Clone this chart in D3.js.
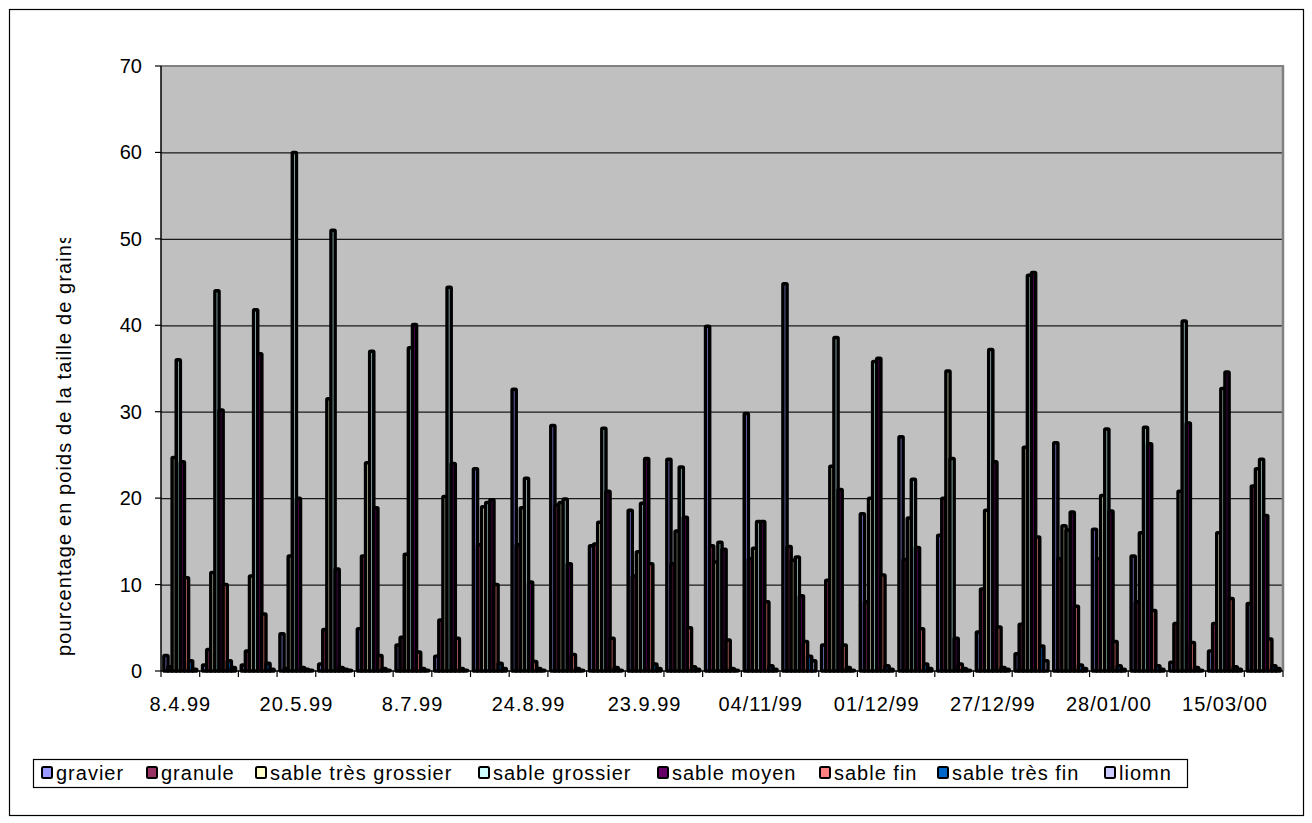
<!DOCTYPE html>
<html>
<head>
<meta charset="utf-8">
<script src="https://cdn.jsdelivr.net/npm/d3@7/dist/d3.min.js"></script>
<style>
  body { margin: 0; background: #fff; }
  text { font-family: Arial, "Liberation Sans", sans-serif; fill: #000; }
</style>
</head>
<body>
<div id="chartVis"></div>
<script>
// x labels: only every third sample date is written on the axis
var dateLabels = ["8.4.99", "20.5.99", "8.7.99", "24.8.99", "23.9.99", "04/11/99", "01/12/99", "27/12/99", "28/01/00", "15/03/00"];
var labelEvery = 3;

var seriesNames = ["gravier", "granule", "sable très grossier", "sable grossier", "sable moyen", "sable fin", "sable très fin", "liomn"];
var seriesColors = ["#9999FF", "#993366", "#FFFFCC", "#CCFFFF", "#660066", "#FF8080", "#0066CC", "#CCCCFF"];

// percentages per sample (29 samples)
var gravier     = [1.8, 0.7, 0.7, 4.3, 0.8, 4.9, 3.0, 1.7, 23.4, 32.6, 28.4, 14.5, 18.6, 24.5, 39.9, 29.8, 44.8, 3.0, 18.2, 27.1, 15.7, 4.5, 2.0, 26.4, 16.4, 13.3, 1.0, 2.3, 7.8];
var granule     = [0.5, 2.5, 2.3, 0.3, 4.8, 13.3, 3.9, 5.9, 14.6, 14.6, 19.2, 14.7, 11.0, 12.4, 14.5, 13.0, 14.4, 10.5, 8.0, 12.9, 20.0, 9.5, 5.4, 13.0, 13.0, 8.0, 5.5, 5.5, 21.4];
var tresGrossier = [24.7, 11.4, 11.0, 13.3, 31.5, 24.1, 13.5, 20.2, 19.0, 18.9, 19.5, 17.2, 13.8, 16.2, 12.6, 14.2, 12.8, 23.7, 20.0, 17.7, 34.7, 18.6, 25.9, 16.8, 20.3, 16.0, 20.8, 16.0, 23.4];
var grossier    = [36.0, 44.0, 41.8, 60.0, 51.0, 37.0, 37.4, 44.4, 19.5, 22.3, 19.9, 28.1, 19.4, 23.6, 14.9, 17.3, 13.2, 38.6, 35.8, 22.2, 24.6, 37.2, 45.8, 16.3, 28.0, 28.2, 40.5, 32.7, 24.5];
var moyen       = [24.2, 30.2, 36.7, 20.0, 11.8, 18.9, 40.1, 24.0, 19.8, 10.3, 12.4, 20.8, 24.6, 17.8, 14.1, 17.3, 8.7, 21.0, 36.2, 14.3, 3.8, 24.2, 46.1, 18.4, 18.5, 26.3, 28.7, 34.6, 18.0];
var fin         = [10.8, 10.0, 6.6, 0.4, 0.4, 1.8, 2.2, 3.8, 10.0, 1.1, 1.9, 3.8, 12.4, 5.0, 3.6, 8.0, 3.4, 3.0, 11.1, 4.9, 0.8, 5.1, 15.5, 7.5, 3.4, 7.0, 3.3, 8.4, 3.7];
var tresFin     = [1.2, 1.2, 0.9, 0.2, 0.2, 0.3, 0.3, 0.3, 0.9, 0.3, 0.3, 0.4, 0.8, 0.5, 0.3, 0.6, 1.7, 0.4, 0.6, 0.8, 0.3, 0.4, 2.9, 0.7, 0.6, 0.6, 0.4, 0.5, 0.6];
var liomn       = [0.2, 0.4, 0.2, 0.1, 0.1, 0.1, 0.1, 0.1, 0.3, 0.1, 0.1, 0.1, 0.3, 0.2, 0.1, 0.2, 1.2, 0.1, 0.2, 0.3, 0.1, 0.2, 1.2, 0.3, 0.2, 0.2, 0.1, 0.2, 0.3];

var yTicks = [0, 10, 20, 30, 40, 50, 60, 70];
var yLabel = "pourcentage en poids de la taille de grains";

var allSeries = [gravier, granule, tresGrossier, grossier, moyen, fin, tresFin, liomn];

// layout
var width = 1312;
var height = 823;
var plot = { left: 161, top: 66, right: 1283, bottom: 671 };
var fontSize = 20;

var svg = d3.select("#chartVis")
  .append("svg")
  .attr("width", width)
  .attr("height", height);

// outer chart frame
svg.append("rect")
  .attr("x", 9.5).attr("y", 9.5)
  .attr("width", 1294).attr("height", 806)
  .attr("fill", "#fff")
  .attr("stroke", "#000")
  .attr("stroke-width", 1.2);

var nSamples = gravier.length;

var xScale = d3.scaleBand()
  .domain(d3.range(nSamples))
  .range([plot.left, plot.right]);

var bw = xScale.bandwidth();
var xSub = d3.scaleBand()
  .domain(d3.range(allSeries.length))
  .range([bw * 0.075, bw * 0.925]);

var yScale = d3.scaleLinear()
  .domain([0, 70])
  .range([plot.bottom, plot.top]);

// plot background
svg.append("rect")
  .attr("x", plot.left).attr("y", plot.top)
  .attr("width", plot.right - plot.left)
  .attr("height", plot.bottom - plot.top)
  .attr("fill", "#C0C0C0");

// grid lines
svg.append("g").selectAll("line")
  .data(yTicks.filter(function (d) { return d > 0 && d < 70; }))
  .enter().append("line")
  .attr("x1", plot.left).attr("x2", plot.right)
  .attr("y1", function (d) { return yScale(d) + 0.5; })
  .attr("y2", function (d) { return yScale(d) + 0.5; })
  .attr("stroke", "#1a1a1a")
  .attr("stroke-width", 1.2);

// gray frame at top and right of the plot area
svg.append("line")
  .attr("x1", plot.left).attr("x2", plot.right + 1)
  .attr("y1", plot.top).attr("y2", plot.top)
  .attr("stroke", "#808080").attr("stroke-width", 2);
svg.append("line")
  .attr("x1", plot.right).attr("x2", plot.right)
  .attr("y1", plot.top).attr("y2", plot.bottom)
  .attr("stroke", "#808080").attr("stroke-width", 2.5);

// bars, series by series (thick black outline, thin coloured core)
allSeries.forEach(function (values, s) {
  svg.append("g").selectAll("rect")
    .data(values).enter()
    .append("rect")
    .attr("x", function (d, i) { return xScale(i) + xSub(s); })
    .attr("y", function (d) { return yScale(d); })
    .attr("width", xSub.bandwidth())
    .attr("height", function (d) { return plot.bottom - yScale(d); })
    .attr("rx", 0.8)
    .attr("fill", seriesColors[s])
    .attr("stroke", "#000")
    .attr("stroke-width", 3.5);
});

// y axis
var yAxis = svg.append("g");
yAxis.append("line")
  .attr("x1", plot.left).attr("x2", plot.left)
  .attr("y1", plot.top).attr("y2", plot.bottom)
  .attr("stroke", "#000").attr("stroke-width", 1.5);
yAxis.selectAll("line.tick")
  .data(yTicks).enter()
  .append("line")
  .attr("class", "tick")
  .attr("x1", plot.left - 6).attr("x2", plot.left)
  .attr("y1", function (d) { return yScale(d); })
  .attr("y2", function (d) { return yScale(d); })
  .attr("stroke", "#000").attr("stroke-width", 1.2);
yAxis.selectAll("text")
  .data(yTicks).enter()
  .append("text")
  .attr("x", plot.left - 19)
  .attr("y", function (d) { return yScale(d) + 7; })
  .attr("text-anchor", "end")
  .attr("font-size", fontSize)
  .text(function (d) { return d; });

// x axis
var xAxis = svg.append("g");
xAxis.append("line")
  .attr("x1", plot.left).attr("x2", plot.right)
  .attr("y1", plot.bottom).attr("y2", plot.bottom)
  .attr("stroke", "#000").attr("stroke-width", 1.5);
xAxis.selectAll("line.tick")
  .data(d3.range(nSamples + 1)).enter()
  .append("line")
  .attr("class", "tick")
  .attr("x1", function (i) { return plot.left + i * bw; })
  .attr("x2", function (i) { return plot.left + i * bw; })
  .attr("y1", plot.bottom).attr("y2", plot.bottom + 6)
  .attr("stroke", "#000").attr("stroke-width", 1.2);
xAxis.selectAll("text")
  .data(dateLabels).enter()
  .append("text")
  .attr("x", function (d, i) { return xScale(i * labelEvery) + bw / 2; })
  .attr("y", 711)
  .attr("text-anchor", "middle")
  .attr("font-size", fontSize)
  .attr("letter-spacing", 1)
  .text(function (d) { return d; });

// y axis title, cut off at the top like the original
svg.append("clipPath").attr("id", "ylabClip")
  .append("rect")
  .attr("x", 0).attr("y", 238)
  .attr("width", 150).attr("height", 500);

svg.append("g")
  .attr("clip-path", "url(#ylabClip)")
  .append("text")
  .attr("transform", "translate(71, 656) rotate(-90)")
  .attr("font-size", fontSize)
  .attr("letter-spacing", 1.1)
  .text(yLabel);

// legend
var legendX = [41, 146, 255, 478, 657, 819, 937, 1104];
var legend = svg.append("g");
legend.append("rect")
  .attr("x", 33.5).attr("y", 759.5)
  .attr("width", 1154).attr("height", 28)
  .attr("fill", "#fff")
  .attr("stroke", "#000")
  .attr("stroke-width", 1.2);

var items = legend.selectAll("g.item")
  .data(seriesNames).enter()
  .append("g")
  .attr("class", "item")
  .attr("transform", function (d, i) { return "translate(" + legendX[i] + ",0)"; });

items.append("rect")
  .attr("x", 1).attr("y", 767)
  .attr("width", 10).attr("height", 11)
  .attr("rx", 1.5)
  .attr("fill", function (d, i) { return seriesColors[i]; })
  .attr("stroke", "#000")
  .attr("stroke-width", 2);

items.append("text")
  .attr("x", 15)
  .attr("y", 780)
  .attr("font-size", fontSize)
  .attr("letter-spacing", 1)
  .text(function (d) { return d; });
</script>
</body>
</html>
